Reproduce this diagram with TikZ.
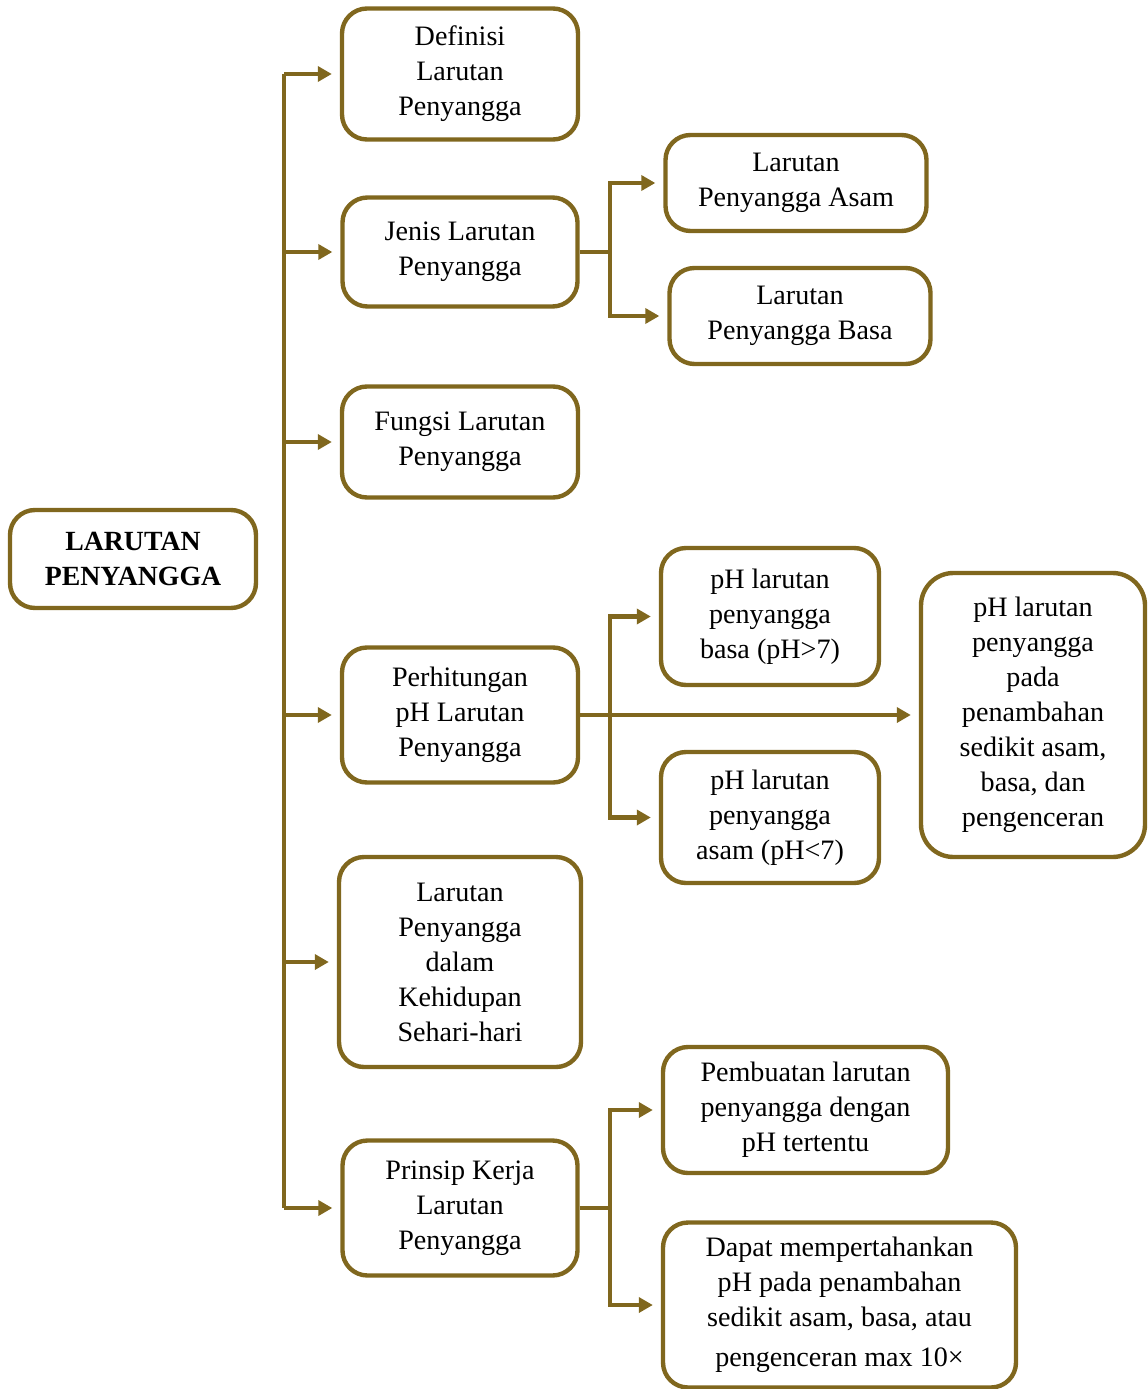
\documentclass[tikz,border=0pt]{standalone}
\usepackage{fontspec}
\setmainfont{Liberation Serif}
\usetikzlibrary{positioning, calc, arrows.meta}
\definecolor{gold}{RGB}{128,103,30}

\begin{document}
\begin{tikzpicture}[node distance=2cm,on grid,
    box/.style={draw=gold, line width=2.5pt, rounded corners=0.5cm, align=center, fill=white,
      font=\fontsize{16}{19.9}\selectfont},
    mainbox/.style={box, font=\fontsize{15.8}{19.9}\selectfont\bfseries},
    link/.style={draw=gold, line width=2.5pt},
    arr/.style={link, -{Triangle[length=0.28cm,width=0.3cm]}, shorten >=0.16cm}]

    \useasboundingbox (0,0) rectangle (22.94,-27.78);

    \node[mainbox, minimum width=4.92cm, minimum height=1.96cm] (main) at (2.66,-11.18) {LARUTAN\\PENYANGGA};

    \node[box, minimum width=4.72cm, minimum height=2.62cm] (defin) at (9.2,-1.48) {Definisi\\Larutan\\Penyangga};
    \node[box, minimum width=4.7cm, minimum height=2.18cm] (jenis) [below=3.56cm of defin] {Jenis Larutan\\Penyangga};
    \node[box, minimum width=4.72cm, minimum height=2.22cm] (fungsi) [below=3.8cm of jenis] {Fungsi Larutan\\Penyangga};
    \node[box, minimum width=4.72cm, minimum height=2.7cm] (hitung) [below=5.46cm of fungsi] {Perhitungan\\pH Larutan\\Penyangga};
    \node[box, minimum width=4.84cm, minimum height=4.2cm] (dalam) [below=4.94cm of hitung] {Larutan\\Penyangga\\dalam\\Kehidupan\\Sehari-hari};
    \node[box, minimum width=4.7cm, minimum height=2.7cm] (prinsip) [below=4.92cm of dalam] {Prinsip Kerja\\Larutan\\Penyangga};

    \node[box, minimum width=5.22cm, minimum height=1.92cm] (asam) [right=6.72cm of jenis, yshift=1.38cm] {Larutan\\Penyangga Asam};
    \node[box, minimum width=5.22cm, minimum height=1.92cm] (basa) [right=6.8cm of jenis, yshift=-1.28cm] {Larutan\\Penyangga Basa};

    \node[box, minimum width=4.36cm, minimum height=2.74cm] (ph_basa) [right=6.2cm of hitung, yshift=1.97cm] {pH larutan\\penyangga\\basa (pH>7)};
    \node[box, minimum width=4.36cm, minimum height=2.62cm] (ph_asam) [right=6.2cm of hitung, yshift=-2.05cm] {pH larutan\\penyangga\\asam (pH<7)};
    \node[box, minimum width=4.48cm, minimum height=5.68cm, rounded corners=0.65cm] (ph_tambah) [right=11.46cm of hitung] {pH larutan\\penyangga\\pada\\penambahan\\sedikit asam,\\basa, dan\\pengenceran};

    \node[box, minimum width=5.7cm, minimum height=2.52cm] (buat) [right=6.91cm of prinsip, yshift=1.96cm] {Pembuatan larutan\\penyangga dengan\\pH tertentu};
    \node[box, minimum width=7.06cm, minimum height=3.3cm] (dapat) [right=7.59cm of prinsip, yshift=-1.94cm] {Dapat mempertahankan\\pH pada penambahan\\sedikit asam, basa, atau\\[0.1cm]pengenceran max 10×};

    \coordinate (trunk) at (5.68,0);
    \coordinate (split) at (12.2,0);

    \draw[link] (trunk |- defin) -- (trunk |- prinsip);

    \path
    (trunk |- defin) edge[arr] (defin)
    (trunk |- jenis) edge[arr] (jenis)
    (trunk |- fungsi) edge[arr] (fungsi)
    (trunk |- hitung) edge[arr] (hitung)
    (trunk |- dalam) edge[arr] (dalam)
    (trunk |- prinsip) edge[arr] (prinsip);

    \draw[link] (jenis) -- (split |- jenis);
    \draw[arr] (split |- jenis) |- (asam);
    \draw[arr] (split |- jenis) |- (basa);

    \draw[arr] (hitung) -- (ph_tambah);
    \draw[arr] (split |- hitung) |- (ph_basa);
    \draw[arr] (split |- hitung) |- (ph_asam);

    \draw[link] (prinsip) -- (split |- prinsip);
    \draw[arr] (split |- prinsip) |- (buat);
    \draw[arr] (split |- prinsip) |- (dapat);
  \end{tikzpicture}
\end{document}
